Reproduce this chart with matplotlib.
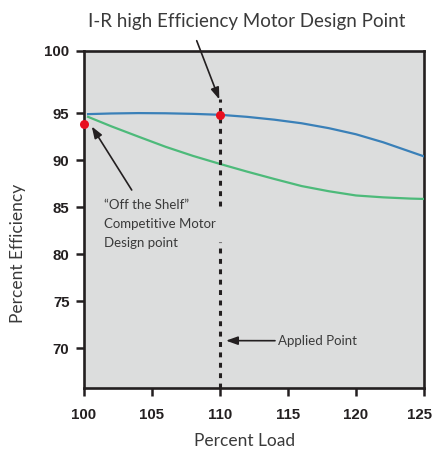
import numpy as np
import matplotlib
matplotlib.use("Agg")
import matplotlib.pyplot as plt
from matplotlib.transforms import ScaledTranslation

# ---- data ----
load = [100.3, 102, 104, 106, 108, 110, 112, 114, 116, 118, 120, 122, 124, 125]
ir_eff = [94.89, 94.96, 95.0, 94.98, 94.92, 94.82, 94.6, 94.3, 93.92, 93.4, 92.75, 91.9, 90.9, 90.4]
shelf_eff = [94.6, 93.6, 92.5, 91.42, 90.46, 89.6, 88.78, 88.0, 87.25, 86.7, 86.25, 86.05, 85.92, 85.88]
design_load = [100, 110]
design_eff = [93.8, 94.82]
x_ticks = [100, 105, 110, 115, 120, 125]
y_ticks = [70, 75, 80, 85, 90, 95, 100]

W, H = 433, 454
fig = plt.figure(figsize=(W / 100, H / 100), dpi=100)
fig.patch.set_facecolor("white")

def fx(px):
    return px / W

def fy(py):
    return 1 - py / H

ax = fig.add_axes([fx(84), fy(388), fx(424) - fx(84), fy(51) - fy(388)])
ax.set_facecolor("#dcdddd")

# piecewise y-scale (the 95-100 band is stretched in the original)
K = 62.0 / 47.0

def fwd(v):
    v = np.asarray(v, dtype=float)
    return np.where(v <= 95, v, 95 + (v - 95) * K)

def inv(t):
    t = np.asarray(t, dtype=float)
    return np.where(t <= 95, t, 95 + (t - 95) / K)

ax.set_yscale("function", functions=(fwd, inv))
ax.set_xlim(100, 125)
ax.set_ylim(65.8, 100)

dark = "#231f20"
ax.plot(load, shelf_eff, color="#4dba7a", lw=1.6, zorder=3)
ax.plot(load, ir_eff, color="#3a80b8", lw=1.6, zorder=3)
dash = (0, (1.6, 1.8))
ax.plot([110, 110], [85.1, 96.1], color=dark, lw=2.2, ls=dash, zorder=4)
ax.plot([110, 110], [65.8, 81.3], color=dark, lw=2.2, ls=dash, zorder=4)
ax.plot(design_load, design_eff, "o", color="#e8101f", ms=6.5, mec="none",
        zorder=6, clip_on=False)

ax.set_xticks(x_ticks)
ax.set_yticks(y_ticks)
ax.set_xticklabels([str(t) for t in x_ticks])
ax.set_yticklabels([str(t) for t in y_ticks])
ax.minorticks_off()
ax.tick_params(axis="both", direction="out", length=5.5, width=1.8, color=dark)
ax.tick_params(axis="x", pad=9)
ax.tick_params(axis="y", pad=5)
for lab in ax.get_xticklabels() + ax.get_yticklabels():
    lab.set_fontfamily("Liberation Sans")
    lab.set_fontweight("bold")
    lab.set_fontsize(10.8)
    lab.set_color(dark)
last = ax.xaxis.get_major_ticks()[-1].label1
last.set_transform(last.get_transform() + ScaledTranslation(-4.5 / 100, 0, fig.dpi_scale_trans))
for s in ax.spines.values():
    s.set_linewidth(1.9)
    s.set_color(dark)

txt = "#3a3a3a"
font = "Lato"
fig.text(fx(246.7), fy(21.7), "I-R high Efficiency Motor Design Point",
         ha="center", va="center", fontsize=13.5, family=font, color=txt)
fig.text(fx(244.7), fy(441), "Percent Load", ha="center", va="center",
         fontsize=12.5, family=font, color=txt)
fig.text(fx(18), fy(253), "Percent Efficiency", ha="center", va="center",
         rotation=90, fontsize=12.5, family=font, color=txt)

fig.text(fx(104.3), fy(205), "\u201cOff the Shelf\u201d", ha="left", va="center",
         fontsize=9.5, family=font, color=txt)
fig.text(fx(104.3), fy(224.5), "Competitive Motor", ha="left", va="center",
         fontsize=9.5, family=font, color=txt)
fig.text(fx(104.3), fy(243.3), "Design point", ha="left", va="center",
         fontsize=9.5, family=font, color=txt)
fig.text(fx(278.3), fy(340.7), "Applied Point", ha="left", va="center",
         fontsize=9.5, family=font, color=txt)

ap = dict(arrowstyle="-|>,head_length=0.7,head_width=0.25", color=dark, lw=1.2,
          shrinkA=0, shrinkB=0)
ax.annotate("", xy=(109.95, 96.1), xytext=(fx(196.7), fy(40.7)),
            textcoords="figure fraction", arrowprops=ap, annotation_clip=False)
ax.annotate("", xy=(100.57, 93.58), xytext=(fx(131.7), fy(190)),
            textcoords="figure fraction", arrowprops=ap, annotation_clip=False)
ax.annotate("", xy=(110.44, 70.83), xytext=(fx(275), fy(340.7)),
            textcoords="figure fraction", arrowprops=ap, annotation_clip=False)

fig.savefig("out.png", dpi=100, facecolor="white")
